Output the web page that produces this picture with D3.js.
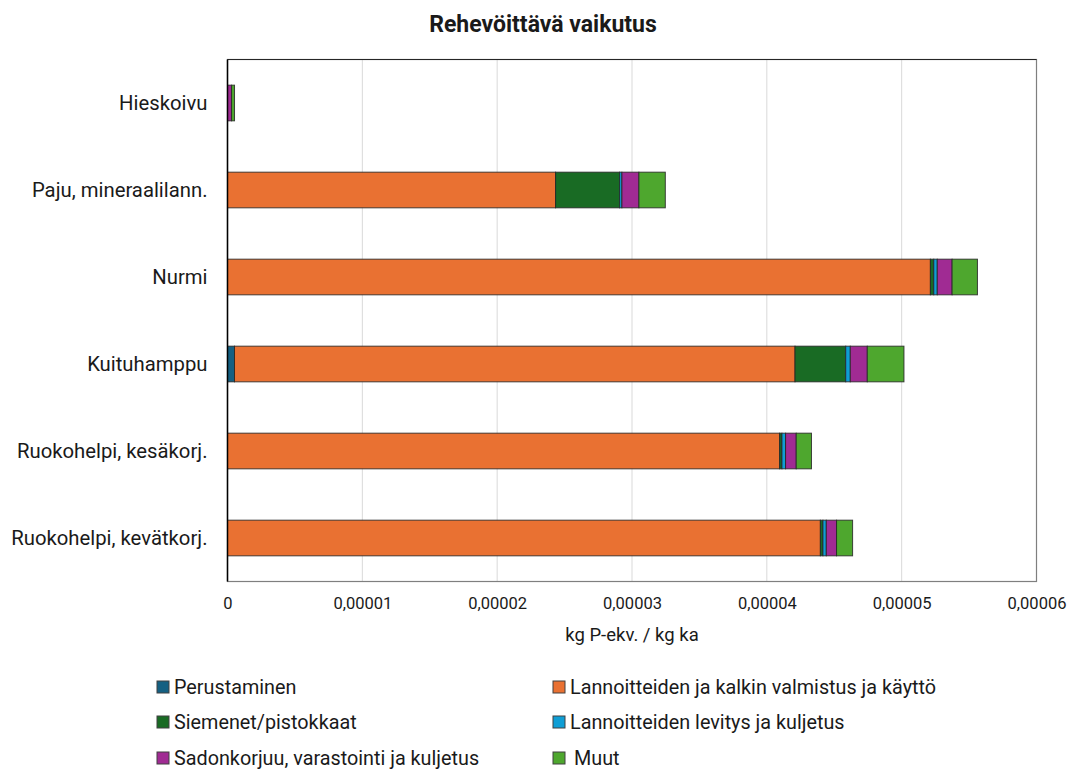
<!DOCTYPE html>
<html>
<head>
<meta charset="utf-8">
<script src="https://cdn.jsdelivr.net/npm/d3@7"></script>
<style>
  body { margin: 0; background: #fff; }
  svg text { font-family: Roboto, "Liberation Sans", sans-serif; fill: #1a1a1a; }
</style>
</head>
<body>
<svg id="chart" width="1072" height="770"></svg>
<script>
// ---- data (values in kg P-ekv. / kg ka) ----
const categories = [
  "Hieskoivu",
  "Paju, mineraalilann.",
  "Nurmi",
  "Kuituhamppu",
  "Ruokohelpi, kesäkorj.",
  "Ruokohelpi, kevätkorj."
];
const seriesNames = [
  "Perustaminen",
  "Lannoitteiden ja kalkin valmistus ja käyttö",
  "Siemenet/pistokkaat",
  "Lannoitteiden levitys ja kuljetus",
  "Sadonkorjuu, varastointi ja kuljetus",
  "Muut"
];
const seriesColors = ["#156082", "#E97132", "#196B24", "#0F9ED5", "#A02B93", "#4EA72E"];
const perustaminen = [0.0000000005, 0.0000000005, 0.0000000005, 0.00000052, 0.0000000005, 0.0000000005];
const lannoitteet  = [0.0,          0.00002433,   0.00005213,   0.00004157, 0.00004095,   0.00004397];
const siemenet     = [0.0,          0.00000475,   0.00000025,   0.00000376, 0.00000017,   0.00000019];
const levitys      = [0.0,          0.00000017,   0.00000026,   0.00000034, 0.00000027,   0.00000025];
const sadonkorjuu  = [0.00000030,   0.00000126,   0.00000110,   0.00000126, 0.00000079,   0.00000076];
const muut         = [0.00000022,   0.00000196,   0.00000188,   0.00000272, 0.00000113,   0.00000119];
const xTicks = [0, 0.00001, 0.00002, 0.00003, 0.00004, 0.00005, 0.00006];
const xTickLabels = ["0", "0,00001", "0,00002", "0,00003", "0,00004", "0,00005", "0,00006"];
const title = "Rehevöittävä vaikutus";
const xAxisTitle = "kg P-ekv. / kg ka";

// ---- build table ----
const seriesArrays = [perustaminen, lannoitteet, siemenet, levitys, sadonkorjuu, muut];
const keys = seriesNames;
const rows = categories.map((c, i) => {
  const r = { cat: c };
  keys.forEach((k, j) => r[k] = seriesArrays[j][i]);
  return r;
});
const stacked = d3.stack().keys(keys)(rows);

// ---- layout ----
const svg = d3.select("#chart");
const m = { left: 227.5, right: 1036.5, top: 59.5, bottom: 581.5 };

const x = d3.scaleLinear().domain([0, 0.00006]).range([m.left, m.right]);
const y = d3.scaleBand().domain(categories).range([m.top, m.bottom]).paddingInner(0.59).paddingOuter(0.295);
const color = d3.scaleOrdinal().domain(keys).range(seriesColors);

// gridlines
svg.append("g")
  .selectAll("line").data(xTicks.slice(1, -1)).join("line")
  .attr("x1", d => x(d)).attr("x2", d => x(d))
  .attr("y1", m.top).attr("y2", m.bottom)
  .attr("stroke", "#d9d9d9").attr("stroke-width", 1);

// frame
svg.append("rect")
  .attr("x", m.left).attr("y", m.top)
  .attr("width", m.right - m.left).attr("height", m.bottom - m.top)
  .attr("fill", "none").attr("stroke", "#7f7f7f").attr("stroke-width", 1.2);
svg.append("line")
  .attr("x1", m.left).attr("x2", m.right).attr("y1", m.top).attr("y2", m.top)
  .attr("stroke", "#262626").attr("stroke-width", 1.2);

// bars
svg.append("g")
  .selectAll("g").data(stacked).join("g")
  .attr("fill", d => color(d.key))
  .selectAll("rect").data(d => d).join("rect")
  .attr("x", d => x(d[0]))
  .attr("y", d => y(d.data.cat))
  .attr("width", d => Math.max(0, x(d[1]) - x(d[0])))
  .attr("height", y.bandwidth())
  .attr("stroke", "#262626").attr("stroke-opacity", 0.85).attr("stroke-width", 1);

// left axis line
svg.append("line")
  .attr("x1", m.left).attr("x2", m.left).attr("y1", m.top).attr("y2", m.bottom)
  .attr("stroke", "#000").attr("stroke-width", 1.5);

// x axis labels
const xAxis = d3.axisBottom(x).tickValues(xTicks)
  .tickFormat((d, i) => xTickLabels[i]).tickSize(0).tickPadding(16);
const gx = svg.append("g").attr("transform", `translate(0,${m.bottom})`).call(xAxis);
gx.select(".domain").remove();
gx.selectAll("text").attr("font-size", 16.5).attr("fill", "#1a1a1a")
  .style("font-family", "Roboto, 'Liberation Sans', sans-serif");

// y axis labels
const yAxis = d3.axisLeft(y).tickSize(0).tickPadding(20);
const gy = svg.append("g").attr("transform", `translate(${m.left},0)`).call(yAxis);
gy.select(".domain").remove();
gy.selectAll("text").attr("font-size", 20.3).attr("fill", "#1a1a1a")
  .style("font-family", "Roboto, 'Liberation Sans', sans-serif");

// title
svg.append("text").attr("x", 543).attr("y", 32).attr("text-anchor", "middle")
  .attr("font-size", 23).attr("font-weight", "bold").text(title);

// axis title
svg.append("text").attr("x", 632).attr("y", 641).attr("text-anchor", "middle")
  .attr("font-size", 18.5).text(xAxisTitle);

// legend
const legendPos = [
  { x: 157, y: 687 }, { x: 553, y: 687 },
  { x: 157, y: 722 }, { x: 553, y: 722 },
  { x: 157, y: 758 }, { x: 553, y: 758 }
];
const lg = svg.append("g").selectAll("g").data(keys).join("g")
  .attr("transform", (d, i) => `translate(${legendPos[i].x},${legendPos[i].y})`);
lg.append("rect").attr("x", 0).attr("y", -6).attr("width", 12).attr("height", 12)
  .attr("fill", d => color(d)).attr("stroke", "#404040").attr("stroke-width", 1);
lg.append("text").attr("x", (d, i) => i === 5 ? 21 : 17).attr("y", 0).attr("dy", "0.35em")
  .attr("font-size", 19.8).text(d => d);
</script>
</body>
</html>
